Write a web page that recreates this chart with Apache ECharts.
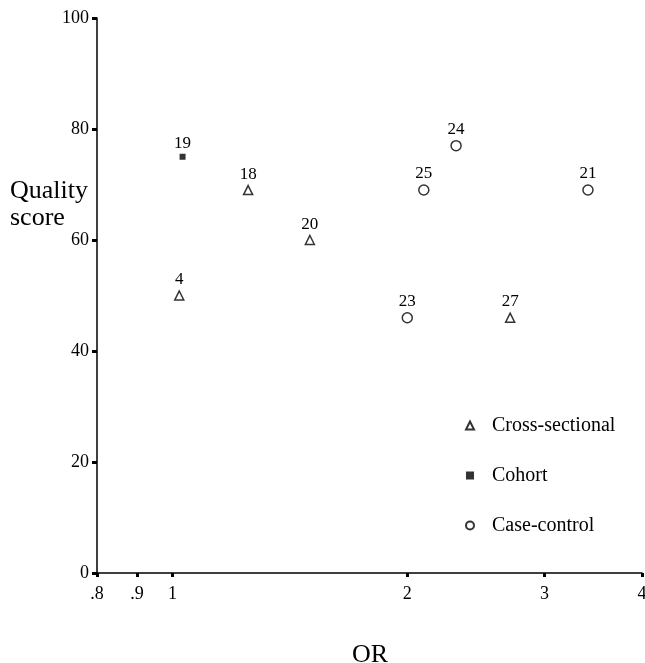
<!DOCTYPE html>
<html>
<head>
<meta charset="utf-8">
<script src="https://cdn.jsdelivr.net/npm/echarts@6/dist/echarts.min.js"></script>
<style>html,body{margin:0;padding:0;background:#fff;overflow:hidden}#c{width:645px;height:663px}</style>
</head>
<body>
<div id="c"></div>
<script>
var xTicks = [0.8, 0.9, 1, 2, 3, 4];
var xTickLabels = ['.8', '.9', '1', '2', '3', '4'];
var yTicks = [0, 20, 40, 60, 80, 100];

var crossOR = [1.02, 1.25, 1.5, 2.71];
var crossQ = [50, 69, 60, 46];
var crossId = ['4', '18', '20', '27'];

var cohortOR = [1.03];
var cohortQ = [75];
var cohortId = ['19'];

var caseOR = [2.31, 2.1, 3.41, 2.0];
var caseQ = [77, 69, 69, 46];
var caseId = ['24', '25', '21', '23'];

var FONT = '"Liberation Serif", "DejaVu Serif", serif';

function pts(xs, ys, ids) {
  return xs.map(function (x, i) { return { value: [x, ys[i]], name: ids[i] }; });
}
var labelOpt = { show: true, position: 'top', distance: 2, formatter: '{b}', color: '#000', fontFamily: FONT, fontSize: 17, textBorderWidth: 0, opacity: 1 };

var chart = echarts.init(document.getElementById('c'), null, { renderer: 'canvas' });
chart.setOption({
  backgroundColor: '#fff',
  animation: false,
  grid: { left: 97, right: 3, top: 18, bottom: 90, containLabel: false, outerBoundsMode: 'none' },
  xAxis: {
    type: 'log', logBase: 10, min: 0.8, max: 4,
    axisLine: { show: true, lineStyle: { color: '#000', width: 1.5 } },
    axisTick: { show: true, length: 4, lineStyle: { color: '#000', width: 3 }, customValues: xTicks },
    axisLabel: {
      show: true, margin: 12, color: '#000', fontFamily: FONT, fontSize: 18,
      customValues: xTicks, hideOverlap: false,
      formatter: function (v) {
        for (var i = 0; i < xTicks.length; i++) { if (Math.abs(xTicks[i] - v) < 1e-6) return xTickLabels[i]; }
        return '';
      }
    },
    splitLine: { show: false },
    minorTick: { show: false }
  },
  yAxis: {
    type: 'value', min: 0, max: 100, interval: 20,
    axisLine: { show: true, lineStyle: { color: '#000', width: 1.5 } },
    axisTick: { show: true, length: 5, lineStyle: { color: '#000', width: 3 } },
    axisLabel: { margin: 8, color: '#000', fontFamily: FONT, fontSize: 18 },
    splitLine: { show: false }
  },
  legend: {
    orient: 'vertical', left: 460, top: 409,
    itemWidth: 8, itemHeight: 8, itemGap: 27,
    textStyle: { color: '#000', fontFamily: FONT, fontSize: 20, lineHeight: 23, padding: [0, 0, 0, 13] },
    data: ['Cross-sectional', 'Cohort', 'Case-control']
  },
  series: [
    {
      name: 'Cross-sectional', type: 'scatter', symbol: 'triangle', symbolSize: 9,
      itemStyle: { color: '#fff', borderColor: '#000', borderWidth: 1.5 },
      label: labelOpt,
      data: pts(crossOR, crossQ, crossId)
    },
    {
      name: 'Cohort', type: 'scatter', symbol: 'rect', symbolSize: 6,
      itemStyle: { color: '#000', borderColor: '#000', borderWidth: 0 },
      label: labelOpt,
      data: pts(cohortOR, cohortQ, cohortId)
    },
    {
      name: 'Case-control', type: 'scatter', symbol: 'circle', symbolSize: 10,
      itemStyle: { color: '#fff', borderColor: '#000', borderWidth: 1.5 },
      label: labelOpt,
      data: pts(caseOR, caseQ, caseId)
    }
  ],
  graphic: [
    { type: 'text', left: 10, top: 178, style: { text: 'Quality\nscore', fill: '#000', font: '26px ' + FONT, lineHeight: 27 } },
    { type: 'text', left: 352, top: 642, style: { text: 'OR', fill: '#000', font: '26px ' + FONT } }
  ]
});
</script>
</body>
</html>
